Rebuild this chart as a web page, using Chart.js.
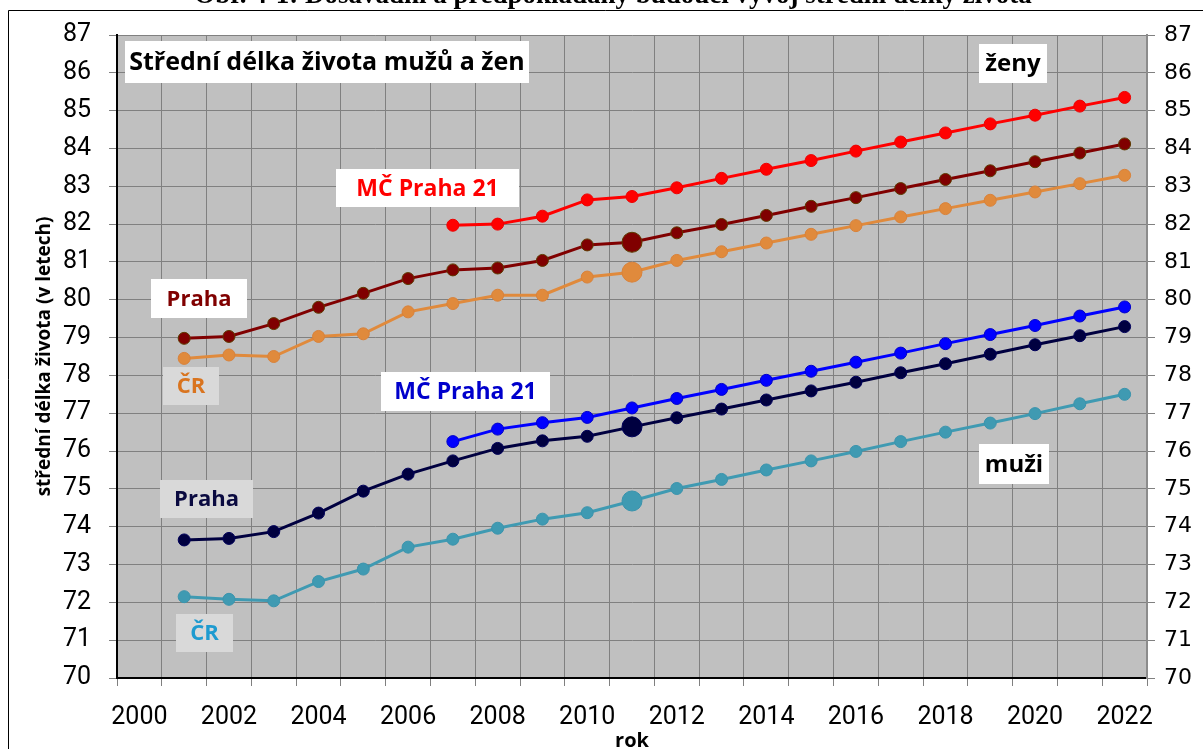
<!DOCTYPE html>
<html>
<head>
<meta charset="utf-8">
<script src="https://cdn.jsdelivr.net/npm/chart.js@4.4.1/dist/chart.umd.min.js"></script>
<style>
  html, body { margin: 0; padding: 0; background: #fff; }
  #wrap { width: 1203px; height: 749px; }
</style>
</head>
<body>
<div id="wrap"><canvas id="myChart" width="1203" height="749"></canvas></div>
<script>
// roky (osa X)
const roky = ['2000','2001','2002','2003','2004','2005','2006','2007','2008','2009','2010',
              '2011','2012','2013','2014','2015','2016','2017','2018','2019','2020','2021','2022'];
const rokSector = '2011'; // sčítání - větší body

// ženy
const mcZeny    = [null,null,null,null,null,null,null,81.97,82.00,82.21,82.64,82.73,82.96,83.21,83.45,83.68,83.93,84.17,84.41,84.65,84.88,85.12,85.35];
const prahaZeny = [null,78.98,79.03,79.37,79.80,80.17,80.56,80.79,80.84,81.04,81.45,81.52,81.77,81.99,82.23,82.47,82.70,82.94,83.18,83.41,83.65,83.88,84.12];
const crZeny    = [null,78.45,78.54,78.50,79.03,79.10,79.68,79.90,80.12,80.12,80.60,80.73,81.04,81.27,81.50,81.73,81.96,82.19,82.41,82.63,82.85,83.07,83.29];

// muži
const mcMuzi    = [null,null,null,null,null,null,null,76.25,76.58,76.75,76.89,77.14,77.39,77.63,77.87,78.11,78.35,78.59,78.84,79.08,79.32,79.57,79.81];
const prahaMuzi = [null,73.65,73.69,73.87,74.36,74.94,75.39,75.74,76.07,76.27,76.39,76.64,76.88,77.11,77.35,77.59,77.82,78.07,78.31,78.56,78.81,79.05,79.29];
const crMuzi    = [null,72.15,72.08,72.04,72.55,72.88,73.46,73.67,73.96,74.20,74.37,74.68,75.01,75.25,75.50,75.74,75.99,76.25,76.50,76.74,76.99,77.25,77.50];

// osa Y
const yMin = 70;
const yMax = 87;

const tickFont = { family: "'Liberation Sans Narrow', Roboto, sans-serif", size: 25 };
const boldFont = "'Open Sans', 'DejaVu Sans', sans-serif";

// popisky v grafu (rámečky s textem)
const popisky = [
  { text: 'Střední délka života mužů a žen', x: 125, y: 41, w: 404, h: 42, color: '#000000', bg: '#ffffff', size: 25 },
  { text: 'ženy', x: 979, y: 44, w: 68, h: 39, color: '#000000', bg: '#ffffff', size: 24 },
  { text: 'MČ Praha 21', x: 336, y: 169, w: 183, h: 38, color: '#ff0000', bg: '#ffffff', size: 23 },
  { text: 'Praha', x: 151, y: 279, w: 96, h: 39, color: '#800000', bg: '#ffffff', size: 22 },
  { text: 'ČR', x: 163, y: 367, w: 56, h: 38, color: '#d9741f', bg: '#d9d9d9', size: 22 },
  { text: 'MČ Praha 21', x: 381, y: 372, w: 169, h: 39, color: '#0000cc', bg: '#ffffff', size: 23 },
  { text: 'Praha', x: 160, y: 480, w: 93, h: 38, color: '#0a0a40', bg: '#d9d9d9', size: 22 },
  { text: 'ČR', x: 176, y: 614, w: 57, h: 38, color: '#1e9bd0', bg: '#d9d9d9', size: 22 },
  { text: 'muži', x: 979, y: 444, w: 70, h: 40, color: '#000000', bg: '#ffffff', size: 24 }
];

function velikostBodu(ctx) {
  return roky[ctx.dataIndex] === rokSector ? 10 : 6;
}

function rada(data, barva, okraj, velkySector) {
  return {
    data: data,
    borderColor: barva,
    backgroundColor: barva,
    pointBackgroundColor: barva,
    pointBorderColor: okraj,
    pointBorderWidth: 1,
    borderWidth: 3,
    pointRadius: velkySector ? velikostBodu : 6,
    fill: false,
    tension: 0,
    yAxisID: 'y'
  };
}

// pozadí, rámeček, nadpis a popisky
const kresleni = {
  id: 'kresleni',
  beforeDraw(chart) {
    const c = chart.ctx;
    const a = chart.chartArea;
    c.save();
    c.fillStyle = '#ffffff';
    c.fillRect(0, 0, chart.width, chart.height);
    c.fillStyle = '#c0c0c0';
    c.fillRect(a.left, a.top, a.right - a.left, a.bottom - a.top);
    // rámeček obrázku
    c.strokeStyle = '#000000';
    c.lineWidth = 1;
    c.beginPath();
    c.moveTo(8.5, chart.height);
    c.lineTo(8.5, 10.5);
    c.lineTo(chart.width, 10.5);
    c.stroke();
    // nadpis (oříznutý nahoře)
    c.fillStyle = '#000000';
    c.font = "bold 27px 'Liberation Serif', serif";
    c.textAlign = 'center';
    c.textBaseline = 'alphabetic';
    c.fillText('Obr. 4-1: Dosavadní a předpokládaný budoucí vývoj střední délky života', 613, 3);
    c.restore();
  },
  afterDatasetsDraw(chart) {
    const c = chart.ctx;
    c.save();
    popisky.forEach(p => {
      c.fillStyle = p.bg;
      c.fillRect(p.x, p.y, p.w, p.h);
      c.fillStyle = p.color;
      c.font = 'bold ' + p.size + 'px ' + boldFont;
      c.textAlign = 'center';
      c.textBaseline = 'middle';
      c.fillText(p.text, p.x + p.w / 2, p.y + p.h / 2 + 1);
    });
    c.restore();
  }
};

window.onload = function() {
  const ctx = document.getElementById('myChart').getContext('2d');

  new Chart(ctx, {
    type: 'line',
    data: {
      labels: roky,
      datasets: [
        rada(mcZeny, '#ff0000', '#ee0000', false),
        rada(prahaZeny, '#800000', '#5e3a00', true),
        rada(crZeny, '#e08a3c', '#d9823a', true),
        rada(mcMuzi, '#0000ff', '#0000cc', false),
        rada(prahaMuzi, '#000040', '#00005a', true),
        rada(crMuzi, '#3f9ab2', '#3a94ad', true)
      ]
    },
    options: {
      responsive: false,
      animation: false,
      events: [],
      layout: { padding: { left: 10, top: 35, right: 0, bottom: 0 } },
      plugins: {
        legend: { display: false },
        tooltip: { enabled: false }
      },
      scales: {
        x: {
          type: 'category',
          offset: true,
          grid: { offset: true, color: '#808080', lineWidth: 1, tickLength: 8, tickColor: '#808080' },
          border: { color: '#000000', width: 2 },
          ticks: {
            autoSkip: false,
            maxRotation: 0,
            padding: 17,
            color: '#000000',
            font: tickFont,
            callback: function(value, index) {
              const rok = roky[index];
              return Number(rok) % 2 === 0 ? rok : '';
            }
          },
          title: {
            display: true,
            text: 'rok',
            color: '#000000',
            font: { family: boldFont, size: 20, weight: 'bold' },
            padding: { top: 0, bottom: -4 }
          },
          afterFit: function(scale) { scale.height = 71; }
        },
        y: {
          position: 'left',
          min: yMin,
          max: yMax,
          grid: { color: '#808080', lineWidth: 1, tickLength: 8, tickColor: '#808080' },
          border: { color: '#000000', width: 2 },
          ticks: { stepSize: 1, padding: 18, color: '#000000', font: tickFont },
          title: {
            display: true,
            text: 'střední délka života (v letech)',
            color: '#000000',
            font: { family: boldFont, size: 19, weight: 'bold' },
            padding: { top: 23, bottom: 0 }
          },
          afterFit: function(scale) { scale.width = 107; }
        },
        y2: {
          position: 'right',
          min: yMin,
          max: yMax,
          grid: { drawOnChartArea: false, color: '#808080', tickLength: 8, tickColor: '#808080' },
          border: { color: '#8c8c8c', width: 2 },
          ticks: { stepSize: 1, padding: 9, color: '#000000', font: { family: "'DejaVu Sans', Verdana, sans-serif", size: 22 } },
          afterFit: function(scale) { scale.width = 56; }
        }
      }
    },
    plugins: [kresleni]
  });
};
</script>
</body>
</html>
